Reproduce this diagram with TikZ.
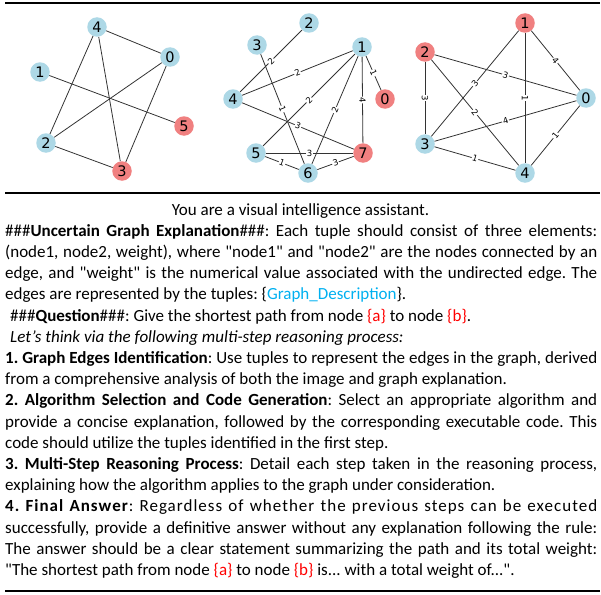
\documentclass[tikz,border=0pt]{standalone}
\usepackage{fontspec}
\setmainfont{Carlito}[Ligatures=TeXOff]
\newfontfamily\djv{DejaVu Sans}
\definecolor{nblue}{RGB}{173,216,230}
\definecolor{nred}{RGB}{240,128,128}
\definecolor{gdblue}{RGB}{0,176,240}
\definecolor{qred}{RGB}{255,0,0}
\newcommand\jl[3]{\node[tl] (#1) at (5,#2) {\hbox to 592pt{#3}};}
\newcommand\nl[4]{\node[tl] (#1) at (#2,#3) {#4};}
\frenchspacing
\begin{document}
\begin{tikzpicture}[x=1pt,y=-1pt,
 gnode/.style={circle,inner sep=0pt,minimum size=19.5pt,font=\djv\fontsize{14.5}{14.5}\selectfont},
 bn/.style={gnode,fill=nblue}, rn/.style={gnode,fill=nred},
 gedge/.style={draw=black!80,line width=0.8pt},
 wl/.style={sloped,midway,fill=white,inner sep=0.7pt,font=\djv\fontsize{8.5}{8.5}\selectfont},
 rulel/.style={line width=2pt},
 tl/.style={anchor=base west,inner sep=0pt,font=\fontsize{17}{21}\selectfont}
]
\useasboundingbox (0,0) rectangle (601,594);
% rules
\coordinate (r1a) at (5,3); \coordinate (r1b) at (600,3);
\coordinate (r2a) at (5,193); \coordinate (r2b) at (600,193);
\coordinate (r3a) at (5,591); \coordinate (r3b) at (600,591);
\draw[rulel] (r1a) -- (r1b);
\draw[rulel] (r2a) -- (r2b);
\draw[rulel] (r3a) -- (r3b);
% graph 1
\node[bn] (a4) at (97,27) {4};
\node[bn] (a0) at (170,57) {0};
\node[bn] (a1) at (40,72) {1};
\node[rn] (a5) at (184,126) {5};
\node[bn] (a2) at (46,143) {2};
\node[rn] (a3) at (122,171) {3};
\draw[gedge] (a4) -- (a0);
\draw[gedge] (a4) -- (a2);
\draw[gedge] (a4) -- (a3);
\draw[gedge] (a0) -- (a2);
\draw[gedge] (a0) -- (a3);
\draw[gedge] (a1) -- (a5);
\draw[gedge] (a2) -- (a3);
% graph 2
\node[bn] (b2) at (309,23) {2};
\node[bn] (b3) at (257,45) {3};
\node[bn] (b1) at (362,47) {1};
\node[bn] (b4) at (233,99) {4};
\node[rn] (b0) at (385,99) {0};
\node[bn] (b5) at (256,153) {5};
\node[rn] (b7) at (363,153) {7};
\node[bn] (b6) at (308,173) {6};
\draw[gedge] (b2) -- node[wl]{2} (b4);
\draw[gedge] (b3) -- node[wl]{1} (b6);
\draw[gedge] (b1) -- node[wl]{2} (b4);
\draw[gedge] (b1) -- node[wl]{1} (b0);
\draw[gedge] (b1) -- node[wl]{2} (b5);
\draw[gedge] (b1) -- node[wl]{2} (b6);
\draw[gedge] (b1) -- node[wl]{4} (b7);
\draw[gedge] (b4) -- node[wl]{3} (b7);
\draw[gedge] (b5) -- node[wl]{3} (b7);
\draw[gedge] (b5) -- node[wl]{1} (b6);
\draw[gedge] (b6) -- node[wl]{3} (b7);
% graph 3
\node[rn] (c1) at (525,23) {1};
\node[rn] (c2) at (425,52) {2};
\node[bn] (c0) at (586,98) {0};
\node[bn] (c3) at (425,144) {3};
\node[bn] (c4) at (525,173) {4};
\draw[gedge] (c1) -- node[wl]{4} (c0);
\draw[gedge] (c2) -- node[wl]{3} (c0);
\draw[gedge] (c2) -- node[wl]{3} (c3);
\draw[gedge] (c1) -- node[wl]{3} (c3);
\draw[gedge] (c2) -- node[wl]{2} (c4);
\draw[gedge] (c1) -- node[wl]{1} (c4);
\draw[gedge] (c3) -- node[wl]{4} (c0);
\draw[gedge] (c0) -- node[wl]{1} (c4);
\draw[gedge] (c3) -- node[wl]{1} (c4);
% text
\node[tl,anchor=base] (t1) at (300.5,215) {You are a visual intelligence assistant.};
\jl{t2}{236.2}{\#\#\#\textbf{Uncertain Graph Explanation}\#\#\#: Each tuple should consist of three elements:}
\jl{t3}{257.4}{(node1, node2, weight), where "node1" and "node2" are the nodes connected by an}
\jl{t4}{278.6}{edge, and "weight" is the numerical value associated with the undirected edge. The}
\nl{t5}{5}{299.8}{edges are represented by the tuples: \{\textcolor{gdblue}{Graph\_Description}\}.}
\nl{t6}{10}{321}{\#\#\#\textbf{Question}\#\#\#: Give the shortest path from node \textcolor{qred}{\{a\}} to node \textcolor{qred}{\{b\}}.}
\nl{t7}{10}{342.2}{\textit{Let’s think via the following multi-step reasoning process:}}
\jl{t8}{363.4}{\textbf{1. Graph Edges Identification}: Use tuples to represent the edges in the graph, derived}
\nl{t9}{5}{384.6}{from a comprehensive analysis of both the image and graph explanation.}
\jl{t10}{405.8}{\textbf{2. Algorithm Selection and Code Generation}: Select an appropriate algorithm and}
\jl{t11}{427}{provide a concise explanation, followed by the corresponding executable code. This}
\nl{t12}{5}{448.2}{code should utilize the tuples identified in the first step.}
\jl{t13}{469.4}{\textbf{3. Multi-Step Reasoning Process}: Detail each step taken in the reasoning process,}
\nl{t14}{5}{490.6}{explaining how the algorithm applies to the graph under consideration.}
\jl{t15}{511.8}{\addfontfeature{LetterSpace=6}\textbf{4. Final Answer}: Regardless of whether the previous steps can be executed}
\jl{t16}{533}{successfully, provide a definitive answer without any explanation following the rule:}
\jl{t17}{554.2}{The answer should be a clear statement summarizing the path and its total weight:}
\nl{t18}{5}{575.4}{"The shortest path from node \textcolor{qred}{\{a\}} to node \textcolor{qred}{\{b\}} is... with a total weight of...".}
\end{tikzpicture}
\end{document}
